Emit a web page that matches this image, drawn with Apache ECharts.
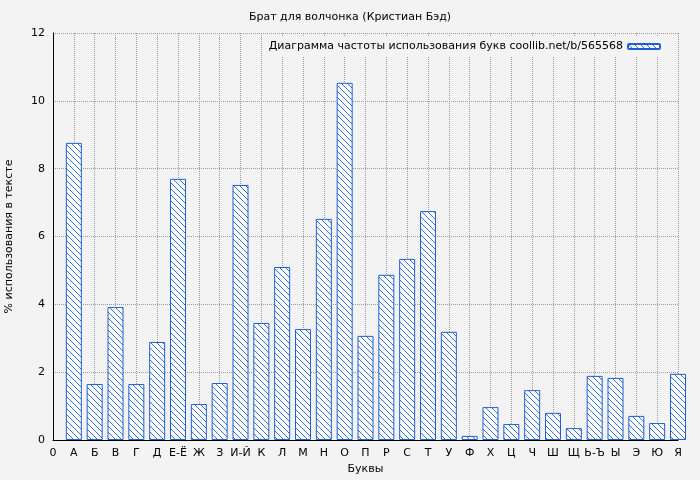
<!DOCTYPE html>
<html><head><meta charset="utf-8">
<script src="https://cdn.jsdelivr.net/npm/echarts@6/dist/echarts.min.js"></script>
<style>html,body{margin:0;background:#f3f3f3}#c{width:700px;height:480px}</style>
</head><body><div id="c"></div>
<script>
// буквы (позиция 0 — пустая)
const letters = ['0','А','Б','В','Г','Д','Е-Ё','Ж','З','И-Й','К','Л','М','Н','О','П','Р','С','Т','У','Ф','Х','Ц','Ч','Ш','Щ','Ь-Ъ','Ы','Э','Ю','Я'];
const values = [8.76,1.65,3.92,1.65,2.89,7.7,1.06,1.68,7.52,3.45,5.1,3.27,6.52,10.53,3.07,4.87,5.34,6.75,3.19,0.12,0.97,0.47,1.47,0.8,0.35,1.89,1.83,0.71,0.5,1.95];
const yTicks = [0,2,4,6,8,10,12];

// штриховка
const pat = document.createElement('canvas');
pat.width = 6; pat.height = 6;
const g = pat.getContext('2d');
g.fillStyle = '#fff'; g.fillRect(0,0,6,6);
g.strokeStyle = '#1f5fd0'; g.lineWidth = 0.9;
g.beginPath();
g.moveTo(-1,-1); g.lineTo(7,7);
g.moveTo(-1,5); g.lineTo(1,7);
g.moveTo(5,-1); g.lineTo(7,1);
g.stroke();

const chart = echarts.init(document.getElementById('c'));
const txt = {color:'#000', fontSize:11, fontFamily:'DejaVu Sans'};
chart.setOption({
  backgroundColor:'#f3f3f3',
  animation:false,
  title:{text:'Брат для волчонка (Кристиан Бэд)', left:'center', top:7, textStyle:Object.assign({fontWeight:'normal'},txt)},
  legend:{right:34, top:36, itemWidth:32, itemHeight:5, align:'right', textStyle:txt, backgroundColor:'#f3f3f3',
    data:['Диаграмма частоты использования букв coollib.net/b/565568']},
  grid:{left:53, right:22, top:33, bottom:40, outerBoundsMode:'none', containLabel:false},
  xAxis:{type:'value', min:0, max:30, interval:1, name:'Буквы', nameLocation:'middle', nameGap:24, nameTextStyle:txt,
    axisLabel:Object.assign({formatter:v=>letters[v]||''},txt),
    axisLine:{lineStyle:{color:'#000'}}, axisTick:{show:false},
    splitLine:{show:true, lineStyle:{color:'#999', type:'dotted'}}},
  yAxis:{type:'value', min:yTicks[0], max:yTicks[yTicks.length-1], interval:2, name:'% использования в тексте',
    nameLocation:'middle', nameGap:38, nameTextStyle:txt, axisLabel:txt,
    axisLine:{show:true, lineStyle:{color:'#000'}}, axisTick:{show:false},
    splitLine:{lineStyle:{color:'#999', type:'dotted'}}},
  series:[{name:'Диаграмма частоты использования букв coollib.net/b/565568', type:'bar', clip:true,
    barWidth:16, data:values.map((v,i)=>[i+1,v]),
    itemStyle:{color:{image:pat, repeat:'repeat'}, borderColor:'#1f5fd0', borderWidth:1}}]
});
</script></body></html>
